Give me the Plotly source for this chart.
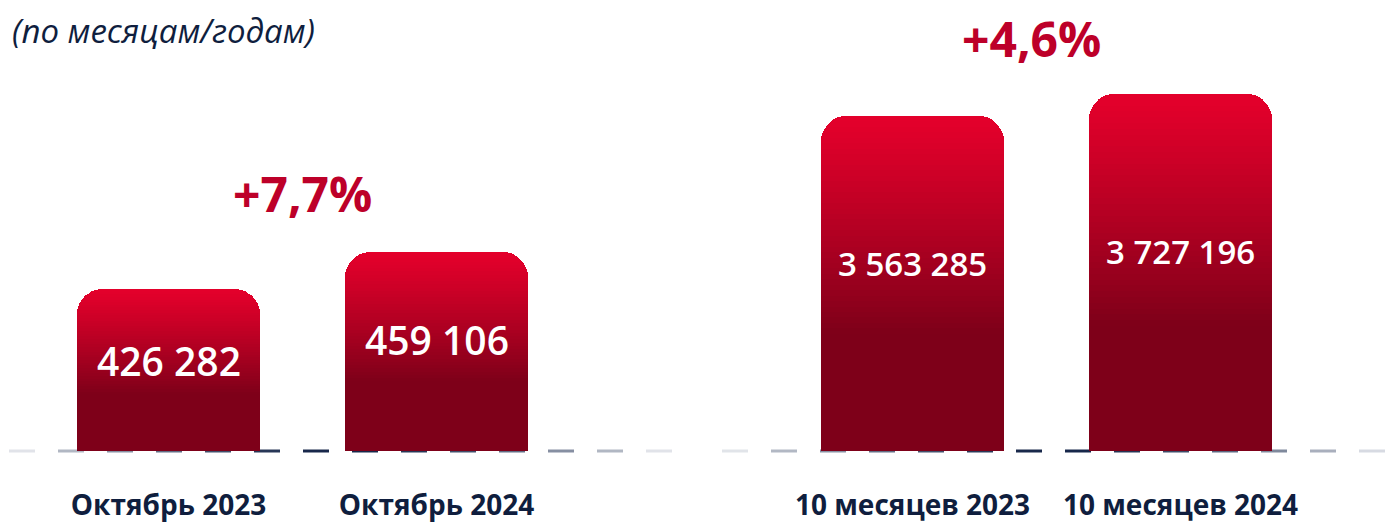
import plotly.graph_objects as go

# ---- data ----
periods_month = ["Октябрь 2023", "Октябрь 2024"]
values_month = [426282, 459106]
periods_ytd = ["10 месяцев 2023", "10 месяцев 2024"]
values_ytd = [3563285, 3727196]
growth_month = "+7,7%"
growth_ytd = "+4,6%"
subtitle = "(по месяцам/годам)"

# ---- style ----
W, H = 1396, 525
FONT = "Open Sans"
NAVY = "#0f1e3e"
TOP_RED = (228, 0, 43)
DARK_RED = (126, 0, 25)
N_SEG = 40
GRAD_SHARE = 0.65
RANGE_L = [282563, 682669]
RANGE_R = [1067383, 4427538]


def fmt(v):
    return f"{v:,}".replace(",", " ")


def mix(c1, c2, t):
    return "rgb(%d,%d,%d)" % tuple(round(a + (b - a) * t) for a, b in zip(c1, c2))


fig = go.Figure()


def add_group(cats, vals, base, xa, ya):
    xs = list(range(len(cats)))
    # dark lower part
    fig.add_trace(go.Bar(
        x=xs, y=[base + (1 - GRAD_SHARE) * (v - base) for v in vals],
        marker=dict(color=mix(TOP_RED, DARK_RED, 1), line=dict(width=0)),
        xaxis=xa, yaxis=ya, hoverinfo="skip", showlegend=False))
    # gradient part
    for i in range(N_SEG):
        t = (N_SEG - 0.5 - i) / N_SEG
        fig.add_trace(go.Bar(
            x=xs, y=[GRAD_SHARE * (v - base) / N_SEG for v in vals],
            marker=dict(color=mix(TOP_RED, DARK_RED, t ** 1.15), line=dict(width=0)),
            xaxis=xa, yaxis=ya, hoverinfo="skip", showlegend=False))
    return xs


xs_l = add_group(periods_month, values_month, RANGE_L[0], "x", "y")
xs_r = add_group(periods_ytd, values_ytd, RANGE_R[0], "x2", "y2")

annotations = []
for xs, vals, base, xr, yr, size in [
    (xs_l, values_month, RANGE_L[0], "x", "y", 39),
    (xs_r, values_ytd, RANGE_R[0], "x2", "y2", 33),
]:
    for x, v in zip(xs, vals):
        annotations.append(dict(
            x=x, y=base + 0.56 * (v - base), xref=xr, yref=yr,
            text=fmt(v), showarrow=False,
            font=dict(family=FONT, size=size, color="white", weight=600)))

annotations.append(dict(
    x=0.5, y=max(values_month), xref="x", yref="y", yshift=59, xshift=0,
    text=growth_month, showarrow=False,
    font=dict(family=FONT, size=48, color="#bd0029", weight=700)))
annotations.append(dict(
    x=0.5, y=max(values_ytd), xref="x2", yref="y2", yshift=56, xshift=-15,
    text=growth_ytd, showarrow=False,
    font=dict(family=FONT, size=48, color="#bd0029", weight=700)))

annotations.append(dict(
    x=10 / W, y=(451 - 31) / 451, xref="paper", yref="paper",
    xanchor="left", yanchor="middle", text=f"<i>{subtitle}</i>",
    showarrow=False, font=dict(family=FONT, size=33, color=NAVY)))

# dashed baseline with gradient
shapes = []
NAVY_RGB = (21, 37, 72)
LIGHT = (238, 240, 244)
for start, end in [(9, 672), (722, 1395)]:
    center = (start + end) / 2
    half = (end - start) / 2
    x0 = start
    while x0 < end:
        x1 = min(x0 + 26, end)
        t = min(1.0, abs((x0 + x1) / 2 - center) / half)
        shapes.append(dict(
            type="line", xref="paper", yref="paper",
            x0=x0 / W, x1=x1 / W, y0=0, y1=0, layer="below",
            line=dict(color=mix(NAVY_RGB, LIGHT, t ** 1.6), width=3)))
        x0 += 49

axis_common = dict(showgrid=False, zeroline=False, showline=False, ticks="",
                   range=[-0.5, 1.5], fixedrange=True, automargin=False,
                   tickfont=dict(family=FONT, size=28, color=NAVY, weight=700),
                   ticklabelstandoff=35)
yaxis_common = dict(visible=False, showgrid=False, zeroline=False, fixedrange=True)

fig.update_layout(
    width=W, height=H,
    margin=dict(l=0, r=0, t=0, b=74, autoexpand=False),
    paper_bgcolor="white", plot_bgcolor="white",
    barmode="stack", bargap=0.317, barcornerradius=25,
    showlegend=False,
    xaxis=dict(domain=[34.5 / W, 570.5 / W], tickvals=xs_l, ticktext=periods_month,
               anchor="y", **axis_common),
    xaxis2=dict(domain=[778.5 / W, 1314.5 / W], tickvals=xs_r, ticktext=periods_ytd,
                anchor="y2", **axis_common),
    yaxis=dict(range=RANGE_L, anchor="x", **yaxis_common),
    yaxis2=dict(range=RANGE_R, anchor="x2", **yaxis_common),
    annotations=annotations,
    shapes=shapes,
)

fig.write_html("out.html")
